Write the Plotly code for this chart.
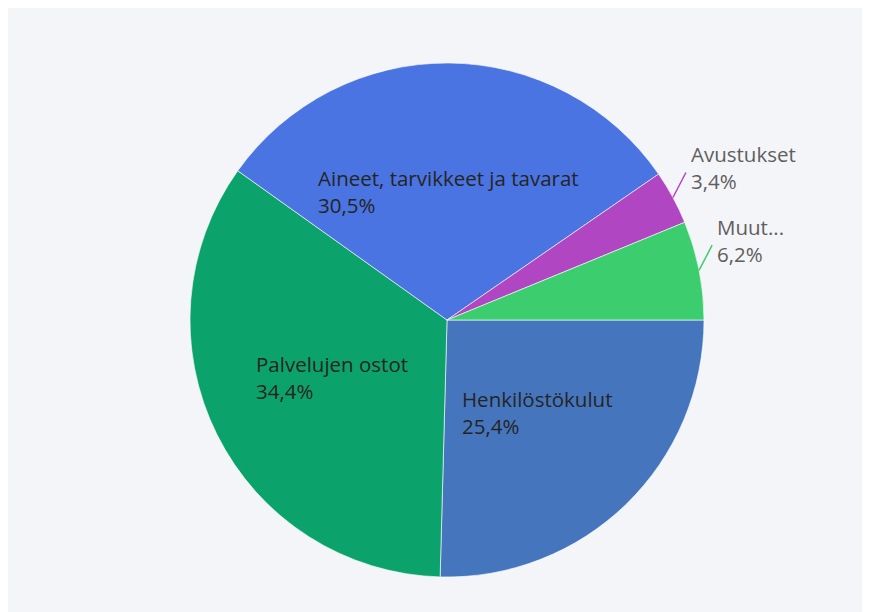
import math
import plotly.graph_objects as go

labels = ["Henkilöstökulut", "Palvelujen ostot", "Aineet, tarvikkeet ja tavarat", "Avustukset", "Muut..."]
values = [25.4, 34.4, 30.5, 3.4, 6.2]
colors = ["#4576BD", "#0BA36B", "#4A74E2", "#B146C2", "#3CCD6E"]
inside = [True, True, True, False, False]

W, H = 860, 604
cx_px, cy_px, r_px = 439, 312, 257
dom_x = [(cx_px - r_px) / W, (cx_px + r_px) / W]
dom_y = [(H - cy_px - r_px) / H, (H - cy_px + r_px) / H]

FONT = "Open Sans"
FS = 20.5

fig = go.Figure(go.Pie(
    labels=labels, values=values, sort=False, direction="clockwise", rotation=90,
    marker=dict(colors=colors, line=dict(color="rgba(255,255,255,0.6)", width=1)),
    textinfo="none", hoverinfo="label+percent", showlegend=False,
    domain=dict(x=dom_x, y=dom_y),
))

total = sum(values)
cum = 0.0
annotations = []
shapes = []

def to_paper(px, py):
    return px / W, (H - py) / H

for lab, v, col, ins in zip(labels, values, colors, inside):
    th = math.radians(360 * (cum + v / 2) / total)
    cum += v
    pct = f"{100 * v / total:.1f}".replace(".", ",") + "%"
    if ins:
        px = cx_px + 0.5 * r_px * math.cos(th)
        py = cy_px + 0.5 * r_px * math.sin(th)
        x, y = to_paper(px, py)
        annotations.append(dict(x=x, y=y, xref="paper", yref="paper", text=f"{lab}<br>{pct}",
                                showarrow=False, xanchor="center", yanchor="middle", align="left",
                                font=dict(family=FONT, size=FS, color="#252423")))
    else:
        ex = cx_px + r_px * math.cos(th)
        ey = cy_px + r_px * math.sin(th)
        lx, ly = ex + 13, ey - 25
        x0, y0 = to_paper(ex, ey)
        x1, y1 = to_paper(lx, ly)
        shapes.append(dict(type="line", xref="paper", yref="paper", x0=x0, y0=y0, x1=x1, y1=y1,
                           line=dict(color=col, width=1.5)))
        tx, ty = to_paper(lx + 3, ly - 5)
        annotations.append(dict(x=tx, y=ty, xref="paper", yref="paper", text=f"{lab}<br>{pct}",
                                showarrow=False, xanchor="left", yanchor="middle", align="left",
                                font=dict(family=FONT, size=FS, color="#605E5C")))

fig.update_layout(
    width=W, height=H, margin=dict(l=0, r=0, t=0, b=0),
    paper_bgcolor="#F4F5F9", plot_bgcolor="#F4F5F9",
    separators=", ", annotations=annotations, shapes=shapes,
)
fig.write_html("out.html")
